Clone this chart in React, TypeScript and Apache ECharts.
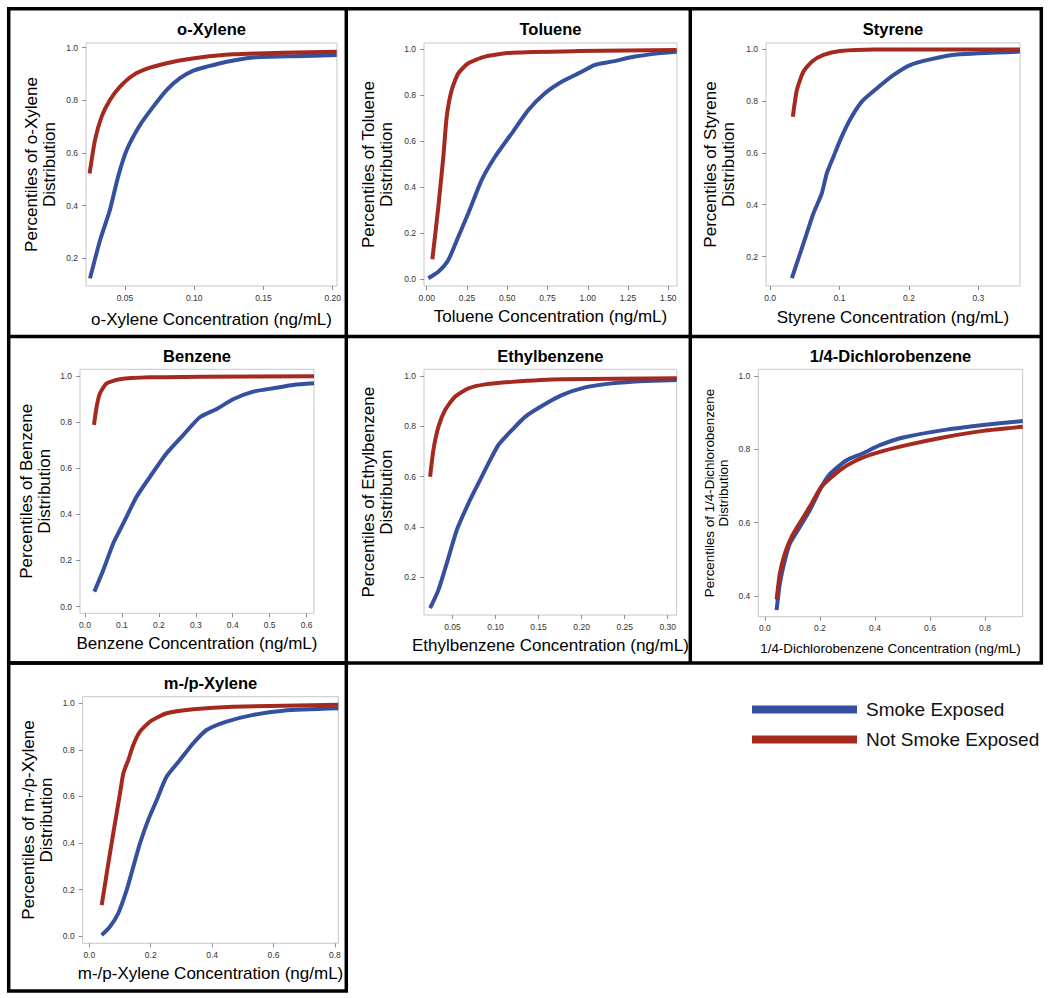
import React, { useEffect, useRef } from "react";
import * as echarts from "echarts";

// ---------- Data ----------
const seriesNames = ["Smoke Exposed", "Not Smoke Exposed"];

const oXyleneSmoke = [[0.0247,0.123],[0.032,0.269],[0.039,0.382],[0.045,0.51],[0.0512,0.611],[0.0608,0.706],[0.0704,0.776],[0.080,0.839],[0.0897,0.884],[0.0993,0.913],[0.109,0.928],[0.1234,0.947],[0.1426,0.963],[0.1715,0.968],[0.2029,0.972]];
const oXyleneNot = [[0.0244,0.522],[0.0283,0.649],[0.0331,0.738],[0.0391,0.801],[0.0464,0.852],[0.056,0.896],[0.068,0.924],[0.0849,0.947],[0.104,0.963],[0.128,0.975],[0.164,0.981],[0.2029,0.985]];

const tolueneSmoke = [[0.01,0.005],[0.072,0.033],[0.134,0.084],[0.196,0.185],[0.258,0.287],[0.341,0.431],[0.424,0.532],[0.528,0.634],[0.631,0.735],[0.734,0.808],[0.838,0.858],[0.962,0.901],[1.045,0.931],[1.148,0.945],[1.293,0.967],[1.438,0.981],[1.552,0.988]];
const tolueneNot = [[0.035,0.087],[0.072,0.315],[0.103,0.532],[0.124,0.706],[0.155,0.822],[0.196,0.894],[0.258,0.938],[0.362,0.967],[0.528,0.984],[0.941,0.991],[1.552,0.996]];

const styreneSmoke = [[0.0313,0.117],[0.0432,0.213],[0.0528,0.29],[0.0624,0.367],[0.0744,0.444],[0.0816,0.521],[0.0912,0.585],[0.1009,0.649],[0.115,0.727],[0.132,0.797],[0.154,0.849],[0.178,0.9],[0.2017,0.938],[0.2305,0.96],[0.269,0.979],[0.36,0.99]];
const styreneNot = [[0.0327,0.739],[0.0385,0.842],[0.048,0.913],[0.06,0.951],[0.0768,0.977],[0.1009,0.992],[0.149,0.998],[0.36,0.998]];

const benzeneSmoke = [[0.0253,0.065],[0.0496,0.159],[0.0767,0.275],[0.1037,0.361],[0.14,0.477],[0.176,0.563],[0.221,0.665],[0.266,0.744],[0.311,0.821],[0.3565,0.857],[0.401,0.899],[0.4556,0.932],[0.51,0.947],[0.564,0.961],[0.62,0.968]];
const benzeneNot = [[0.0244,0.788],[0.0316,0.867],[0.0406,0.925],[0.0587,0.968],[0.0947,0.986],[0.176,0.994],[0.311,0.997],[0.62,0.999]];

const ethylbenzeneSmoke = [[0.0241,0.077],[0.0337,0.149],[0.0435,0.256],[0.0551,0.388],[0.0686,0.494],[0.0802,0.574],[0.0918,0.653],[0.1034,0.726],[0.119,0.785],[0.1344,0.838],[0.1538,0.881],[0.177,0.924],[0.204,0.955],[0.235,0.971],[0.2737,0.98],[0.3105,0.984]];
const ethylbenzeneNot = [[0.0241,0.6],[0.0279,0.706],[0.0337,0.798],[0.0415,0.865],[0.053,0.918],[0.0686,0.951],[0.088,0.967],[0.119,0.977],[0.177,0.987],[0.3105,0.991]];

const dichloroSmoke = [[0.0425,0.361],[0.0545,0.434],[0.0727,0.497],[0.0909,0.543],[0.127,0.588],[0.1636,0.634],[0.206,0.698],[0.236,0.732],[0.297,0.77],[0.3576,0.789],[0.418,0.811],[0.503,0.832],[0.648,0.852],[0.794,0.866],[0.937,0.877]];
const dichloroNot = [[0.0425,0.39],[0.0545,0.461],[0.0727,0.516],[0.097,0.561],[0.1335,0.607],[0.17,0.652],[0.206,0.698],[0.2727,0.743],[0.3335,0.77],[0.406,0.79],[0.515,0.811],[0.648,0.832],[0.794,0.85],[0.937,0.861]];

const mpXyleneSmoke = [[0.0404,0.004],[0.067,0.04],[0.0944,0.098],[0.1218,0.198],[0.1433,0.298],[0.165,0.398],[0.192,0.499],[0.2195,0.584],[0.252,0.685],[0.2953,0.756],[0.3386,0.828],[0.382,0.885],[0.447,0.921],[0.534,0.95],[0.632,0.968],[0.811,0.978]];
const mpXyleneNot = [[0.0404,0.133],[0.0567,0.269],[0.078,0.441],[0.1,0.613],[0.111,0.699],[0.127,0.756],[0.1433,0.821],[0.165,0.878],[0.1977,0.921],[0.252,0.957],[0.339,0.974],[0.469,0.985],[0.811,0.993]];

const titles = ["o-Xylene", "Toluene", "Styrene", "Benzene", "Ethylbenzene", "1/4-Dichlorobenzene", "m-/p-Xylene"];

const xTicks = [
  [0.05, 0.10, 0.15, 0.20],
  [0, 0.25, 0.5, 0.75, 1.0, 1.25, 1.5],
  [0, 0.1, 0.2, 0.3],
  [0, 0.1, 0.2, 0.3, 0.4, 0.5, 0.6],
  [0.05, 0.10, 0.15, 0.20, 0.25, 0.30],
  [0, 0.2, 0.4, 0.6, 0.8],
  [0, 0.2, 0.4, 0.6, 0.8],
];
const xTickDecimals = [2, 2, 1, 1, 2, 1, 1];
const yTicks = [
  [0.2, 0.4, 0.6, 0.8, 1.0],
  [0, 0.2, 0.4, 0.6, 0.8, 1.0],
  [0.2, 0.4, 0.6, 0.8, 1.0],
  [0, 0.2, 0.4, 0.6, 0.8, 1.0],
  [0.2, 0.4, 0.6, 0.8, 1.0],
  [0.4, 0.6, 0.8, 1.0],
  [0, 0.2, 0.4, 0.6, 0.8, 1.0],
];
const xRanges = [[0.0218, 0.2031], [-0.017, 1.554], [-0.006, 0.36], [-0.0135, 0.62], [0.017, 0.3104], [-0.024, 0.937], [-0.0215, 0.811]];
const yRanges = [[0.094, 1.018], [-0.029, 1.026], [0.087, 1.023], [-0.029, 1.029], [0.05, 1.027], [0.343, 1.018], [-0.031, 1.028]];

const smokeData = [oXyleneSmoke, tolueneSmoke, styreneSmoke, benzeneSmoke, ethylbenzeneSmoke, dichloroSmoke, mpXyleneSmoke];
const notSmokeData = [oXyleneNot, tolueneNot, styreneNot, benzeneNot, ethylbenzeneNot, dichloroNot, mpXyleneNot];

// ---------- Layout ----------
const plotBoxes = [
  { l: 86, t: 43, r: 337, b: 286 },
  { l: 424, t: 43, r: 677, b: 286 },
  { l: 766, t: 43, r: 1020, b: 286 },
  { l: 80, t: 369.3, r: 314, b: 613.3 },
  { l: 424, t: 369.3, r: 676.7, b: 615 },
  { l: 758.3, t: 369.3, r: 1022.7, b: 616.7 },
  { l: 82.7, t: 696.7, r: 338.3, b: 943.3 },
];
const titleY = [29, 29, 29, 356, 356, 356, 683];
const xTitleY = [319.3, 316.7, 317.3, 643.3, 645, 648.3, 973.3];
const yTitleX = [40, 377.5, 719.7, 35.8, 377.5, 716.7, 37.5];
const axisFontSize = [17, 17, 17, 17, 17, 13.4, 17];

const FONT = '"Liberation Sans", Arial, Helvetica, sans-serif';
const BLUE = "#34509e";
const RED = "#a6291f";

function buildOption() {
  const grid: any[] = [];
  const xAxis: any[] = [];
  const yAxis: any[] = [];
  const series: any[] = [];
  const graphic: any[] = [];

  plotBoxes.forEach((p, i) => {
    grid.push({
      left: p.l, top: p.t, width: p.r - p.l, height: p.b - p.t,
      show: true, borderColor: "#c3c7cc", borderWidth: 1, backgroundColor: "transparent",
    });
    const xd = xTickDecimals[i];
    xAxis.push({
      type: "value", gridIndex: i, min: xRanges[i][0], max: xRanges[i][1],
      axisLine: { show: false, onZero: false },
      splitLine: { show: false },
      axisTick: { show: true, length: 4, customValues: xTicks[i], lineStyle: { color: "#8a9096", width: 1 } },
      axisLabel: {
        customValues: xTicks[i], fontSize: 8.5, color: "#333", fontFamily: FONT, margin: 7,
        formatter: (v: number) => v.toFixed(xd),
      },
    });
    yAxis.push({
      type: "value", gridIndex: i, min: yRanges[i][0], max: yRanges[i][1],
      axisLine: { show: false, onZero: false },
      splitLine: { show: false },
      axisTick: { show: true, length: 4, customValues: yTicks[i], lineStyle: { color: "#8a9096", width: 1 } },
      axisLabel: {
        customValues: yTicks[i], fontSize: 8.5, color: "#333", fontFamily: FONT, margin: 8,
        formatter: (v: number) => v.toFixed(1),
      },
    });
    series.push({
      name: seriesNames[0], type: "line", xAxisIndex: i, yAxisIndex: i,
      data: smokeData[i], showSymbol: false, smooth: 0.2,
      lineStyle: { color: BLUE, width: 4 }, itemStyle: { color: BLUE }, clip: true,
    });
    series.push({
      name: seriesNames[1], type: "line", xAxisIndex: i, yAxisIndex: i,
      data: notSmokeData[i], showSymbol: false, smooth: 0.2,
      lineStyle: { color: RED, width: 4 }, itemStyle: { color: RED }, clip: true,
    });

    const cx = (p.l + p.r) / 2;
    const cy = (p.t + p.b) / 2;
    const fs = axisFontSize[i];
    graphic.push({
      type: "text", x: cx, y: titleY[i],
      style: { text: titles[i], font: `bold 16.5px ${FONT}`, fill: "#000", textAlign: "center", textVerticalAlign: "middle" },
    });
    graphic.push({
      type: "text", x: cx, y: xTitleY[i],
      style: { text: `${titles[i]} Concentration (ng/mL)`, font: `${fs}px ${FONT}`, fill: "#000", textAlign: "center", textVerticalAlign: "middle" },
    });
    graphic.push({
      type: "text", x: yTitleX[i], y: cy, rotation: Math.PI / 2,
      style: {
        text: `Percentiles of ${titles[i]}\nDistribution`, font: `${fs}px ${FONT}`, fill: "#000",
        textAlign: "center", textVerticalAlign: "middle", lineHeight: Math.round(fs * 1.08),
      },
    });
  });

  // panel borders
  const bs = { stroke: "#000", lineWidth: 3.5, fill: "none" };
  graphic.push({ type: "rect", shape: { x: 8.7, y: 8.7, width: 1032.6, height: 654.3 }, style: { ...bs } });
  graphic.push({ type: "line", shape: { x1: 8.7, y1: 336.5, x2: 1041.3, y2: 336.5 }, style: { stroke: "#000", lineWidth: 3.5 } });
  graphic.push({ type: "line", shape: { x1: 346.3, y1: 8.7, x2: 346.3, y2: 663 }, style: { stroke: "#000", lineWidth: 3.5 } });
  graphic.push({ type: "line", shape: { x1: 690.3, y1: 8.7, x2: 690.3, y2: 663 }, style: { stroke: "#000", lineWidth: 3.5 } });
  graphic.push({ type: "rect", shape: { x: 8.7, y: 663, width: 337.6, height: 328 }, style: { ...bs } });

  return {
    animation: false,
    backgroundColor: "#fff",
    textStyle: { fontFamily: FONT },
    grid, xAxis, yAxis, series, graphic,
    legend: {
      data: seriesNames, orient: "vertical", left: 752, top: 700, padding: 0,
      icon: "rect", itemWidth: 105, itemHeight: 8, itemGap: 11,
      textStyle: { fontSize: 19, color: "#111", fontFamily: FONT, padding: [0, 0, 0, 4] },
    },
  };
}

export default function App() {
  const ref = useRef<HTMLDivElement>(null);
  useEffect(() => {
    if (!ref.current) return;
    const chart = echarts.init(ref.current, undefined, { renderer: "svg" });
    chart.setOption(buildOption() as any);
    return () => chart.dispose();
  }, []);
  return <div ref={ref} style={{ position: "absolute", left: 0, top: 0, width: 1050, height: 998 }} />;
}
